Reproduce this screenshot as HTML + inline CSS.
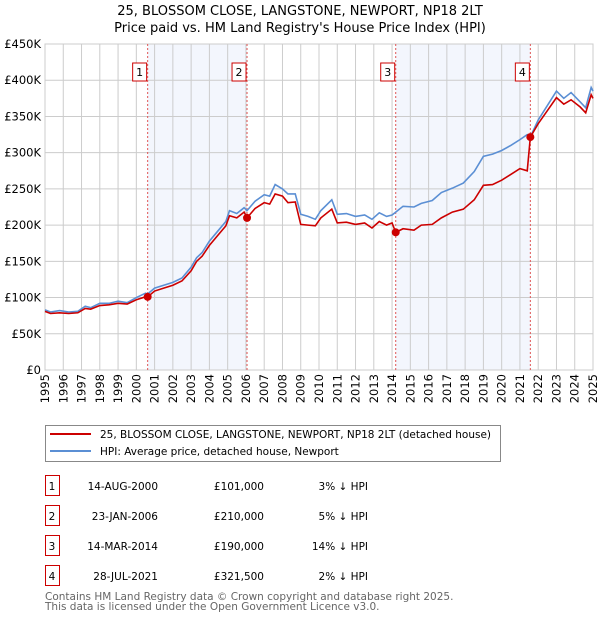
<!DOCTYPE html>
<html><head><meta charset="utf-8"><style>
body{margin:0;background:#fff;font-family:"DejaVu Sans","Liberation Sans",sans-serif;}
svg text{font-family:"DejaVu Sans","Liberation Sans",sans-serif;}
</style></head><body>
<svg id="chart" width="600" height="620" xmlns="http://www.w3.org/2000/svg">
<text x="300" y="15" text-anchor="middle" font-size="13">25, BLOSSOM CLOSE, LANGSTONE, NEWPORT, NP18 2LT</text>
<text x="300" y="32" text-anchor="middle" font-size="13">Price paid vs. HM Land Registry's House Price Index (HPI)</text>
<g id="plot"></g>
<g>
<rect x="45.5" y="425.5" width="455" height="36" fill="#fff" stroke="#888"/>
<line x1="50" y1="434" x2="91" y2="434" stroke="#cc0000" stroke-width="2"/>
<text x="100" y="438" font-size="10.5">25, BLOSSOM CLOSE, LANGSTONE, NEWPORT, NP18 2LT (detached house)</text>
<line x1="50" y1="451" x2="91" y2="451" stroke="#5b8fd4" stroke-width="2"/>
<text x="100" y="455" font-size="10.5">HPI: Average price, detached house, Newport</text>
</g>
<g id="table" font-size="10.5"></g>
<text x="45" y="600" font-size="10.5" fill="#666">Contains HM Land Registry data © Crown copyright and database right 2025.</text>
<text x="45" y="610" font-size="10.5" fill="#666">This data is licensed under the Open Government Licence v3.0.</text>
</svg>
<script>
const years=[1995.0,1995.3,1995.8,1996.3,1996.8,1997.2,1997.5,1998.0,1998.5,1999.0,1999.5,2000.0,2000.5,2000.62,2001.0,2001.5,2002.0,2002.5,2003.0,2003.3,2003.6,2004.0,2004.5,2004.9,2005.1,2005.5,2005.9,2006.06,2006.5,2007.0,2007.3,2007.6,2008.0,2008.3,2008.7,2009.0,2009.4,2009.8,2010.1,2010.7,2011.0,2011.5,2012.0,2012.5,2012.9,2013.3,2013.7,2014.0,2014.2,2014.6,2015.2,2015.6,2016.2,2016.7,2017.3,2017.9,2018.5,2019.0,2019.5,2020.0,2020.5,2021.0,2021.4,2021.57,2022.0,2022.5,2023.0,2023.4,2023.8,2024.3,2024.6,2024.9,2025.0];
const hpiValues=[83,80,82,80,81,88,86,92,92,95,93,100,106,105,113,117,121,127,142,155,162,178,193,205,220,216,224,220,233,242,240,256,250,243,243,215,212,208,220,235,215,216,212,214,208,217,212,214,218,226,225,230,234,245,251,258,274,295,298,303,310,318,325,322,345,365,385,375,383,370,362,390,385];
const propertyValues=[81,78,79,78,79,85,84,89,90,92,91,97,101,101,109,113,117,123,137,150,157,172,187,199,213,210,218,210,223,231,229,243,240,231,232,201,200,199,210,222,203,204,201,203,196,205,200,203,190,195,193,200,201,210,218,222,235,255,256,262,270,278,275,321.5,340,358,376,367,373,363,355,380,375];
const saleYears=[2000.62,2006.06,2014.2,2021.57];
const salePrices=[101,210,190,321.5];
const saleLabels=["1","2","3","4"];
const saleDates=["14-AUG-2000","23-JAN-2006","14-MAR-2014","28-JUL-2021"];
const salePriceText=["£101,000","£210,000","£190,000","£321,500"];
const saleDiff=["3% ↓ HPI","5% ↓ HPI","14% ↓ HPI","2% ↓ HPI"];
const yTicks=[0,50,100,150,200,250,300,350,400,450];
const yTickLabels=["£0","£50K","£100K","£150K","£200K","£250K","£300K","£350K","£400K","£450K"];
const xTicks=[1995,1996,1997,1998,1999,2000,2001,2002,2003,2004,2005,2006,2007,2008,2009,2010,2011,2012,2013,2014,2015,2016,2017,2018,2019,2020,2021,2022,2023,2024,2025];

const NS="http://www.w3.org/2000/svg";
const L=45,R=593,T=44,B=370;
const xs=y=>L+(y-1995)/30*(R-L);
const ys=v=>B-v/450*(B-T);
const plot=document.getElementById('plot');
function mk(tag,attrs,parent){const e=document.createElementNS(NS,tag);for(const k in attrs)e.setAttribute(k,attrs[k]);(parent||plot).appendChild(e);return e;}
for(let i=0;i<4;i+=2){
 const r=mk('rect',{x:xs(saleYears[i]),y:T,width:xs(saleYears[i+1])-xs(saleYears[i]),height:B-T,fill:'#f3f6fd'});
 
 
}
yTicks.forEach((v,i)=>{
 const g=mk('line',{x1:L,x2:R,y1:ys(v),y2:ys(v),stroke:'#cccccc'});
 
 
 const t=mk('text',{x:L-4,y:ys(v)+4,'text-anchor':'end','font-size':'11.5'});
 t.textContent=yTickLabels[i];
 
 
});
xTicks.forEach(y=>{
 const g=mk('line',{x1:xs(y),x2:xs(y),y1:T,y2:B,stroke:'#cccccc'});
 
 
 const t=mk('text',{x:0,y:0,'text-anchor':'end','font-size':'11.5',transform:`translate(${xs(y)+4},${B+4}) rotate(-90)`});
 t.textContent=y;
 
 
});
const fr=mk('rect',{x:L,y:T,width:R-L,height:B-T,fill:'none',stroke:'#cccccc'});


saleYears.forEach((y,i)=>{
 const l=mk('line',{x1:xs(y),x2:xs(y),y1:T,y2:B,stroke:'#e05555','stroke-dasharray':'2,2','stroke-width':'1'});
 
 
 const b=mk('rect',{x:xs(y)-15,y:63,width:14,height:18,fill:'#fff',stroke:'#cc0000'});
 
 
 const t=mk('text',{x:xs(y)-8,y:76,'text-anchor':'middle','font-size':'11'});
 t.textContent=saleLabels[i];
 
 
});
function line(vals,col,name){
 const p=mk('polyline',{points:years.map((y,i)=>xs(y)+','+ys(vals[i])).join(' '),fill:'none',stroke:col,'stroke-width':'1.6'});
 
 
}
line(hpiValues,'#5b8fd4','hpi-line');
line(propertyValues,'#cc0000','property-price-line');
saleYears.forEach((y,i)=>{
 const c=mk('circle',{cx:xs(y),cy:ys(salePrices[i]),r:4,fill:'#cc0000'});
 
 
});
const tb=document.getElementById('table');
saleLabels.forEach((s,i)=>{
 const y0=476+i*30;
 const b=mk('rect',{x:45.5,y:y0-0.5,width:14,height:20,fill:'#fff',stroke:'#cc0000'},tb);
 
 
 const cells=[[52,'middle',s],[158,'end',saleDates[i]],[264,'end',salePriceText[i]],[368,'end',saleDiff[i]]];
 cells.forEach(c=>{
  const t=mk('text',{x:c[0],y:y0+14,'text-anchor':c[1]},tb);
  t.textContent=c[2];
  
  
 });
});
</script>
</body></html>
